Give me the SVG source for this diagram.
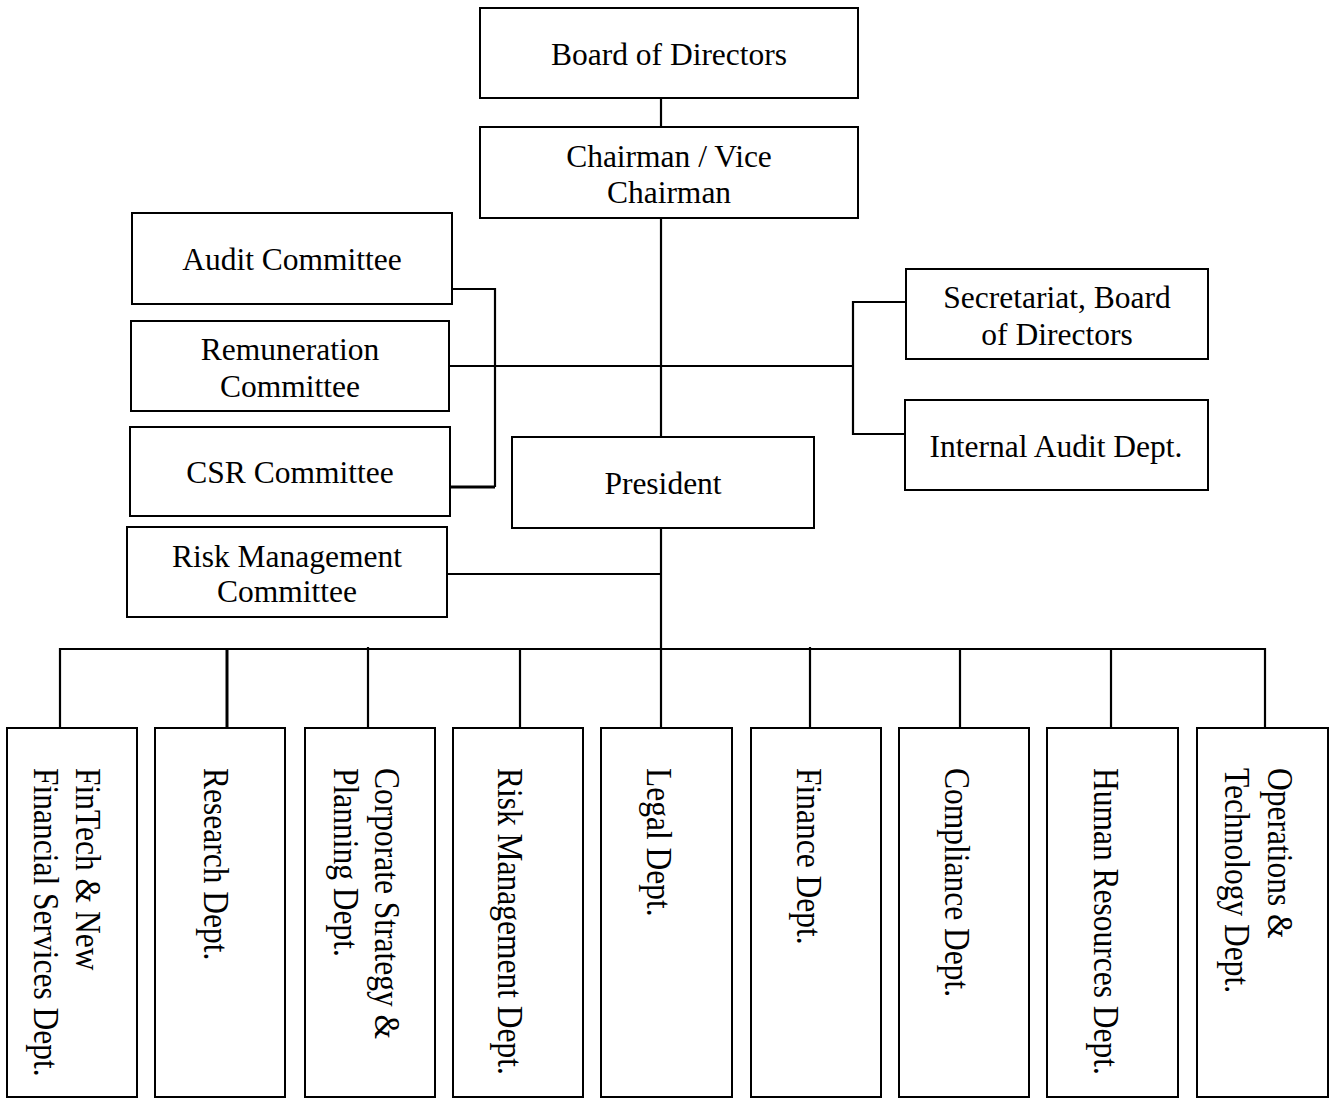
<svg xmlns="http://www.w3.org/2000/svg" width="1331" height="1099" viewBox="0 0 1331 1099">
<style>
.box{fill:#fff;stroke:#000;stroke-width:2}
.t{font-family:"Liberation Serif","Times New Roman",serif;font-size:31.5px;fill:#000}
.c{text-anchor:middle}
.ln{fill:none;stroke:#000;stroke-width:2.2}
.thick{stroke-width:3}
</style>
<rect width="1331" height="1099" fill="#fff"/>
<g id="connectors">
<path class="ln" d="M661,98V127"/>
<path class="ln" d="M661,218V437"/>
<path class="ln" d="M452,289H495V487"/>
<path class="ln thick" d="M495,487H450"/>
<path class="ln" d="M449,366H853"/>
<path class="ln" d="M906,302H853V434H905"/>
<path class="ln" d="M661,528V649"/>
<path class="ln" d="M447,574H661"/>
<path class="ln" d="M60,728V649H1265V728"/>
<path class="ln thick" d="M227,649V728"/>
<path class="ln" d="M368,647V728"/>
<path class="ln" d="M520,649V728"/>
<path class="ln" d="M661,649V728"/>
<path class="ln" d="M810,647V728"/>
<path class="ln" d="M960,649V728"/>
<path class="ln" d="M1111,649V728"/>
</g>
<g id="board"><rect class="box" x="480" y="8" width="378" height="90"/><text class="t c" x="669" y="64.5">Board of Directors</text></g>
<g id="chairman"><rect class="box" x="480" y="127" width="378" height="91"/><text class="t c" x="669" y="167">Chairman / Vice</text><text class="t c" x="669" y="203">Chairman</text></g>
<g id="audit-committee"><rect class="box" x="132" y="213" width="320" height="91"/><text class="t c" x="292" y="270">Audit Committee</text></g>
<g id="remuneration-committee"><rect class="box" x="131" y="321" width="318" height="90"/><text class="t c" x="290" y="360">Remuneration</text><text class="t c" x="290" y="397">Committee</text></g>
<g id="csr-committee"><rect class="box" x="130" y="427" width="320" height="89"/><text class="t c" x="290" y="483">CSR Committee</text></g>
<g id="risk-committee"><rect class="box" x="127" y="527" width="320" height="90"/><text class="t c" x="287" y="567">Risk Management</text><text class="t c" x="287" y="602">Committee</text></g>
<g id="secretariat"><rect class="box" x="906" y="269" width="302" height="90"/><text class="t c" x="1057" y="308">Secretariat, Board</text><text class="t c" x="1057" y="345">of Directors</text></g>
<g id="internal-audit"><rect class="box" x="905" y="400" width="303" height="90"/><text class="t c" x="1056" y="456.5">Internal Audit Dept.</text></g>
<g id="president"><rect class="box" x="512" y="437" width="302" height="91"/><text class="t c" x="663" y="494">President</text></g>
<g id="fintech"><rect class="box" x="7" y="728" width="130" height="369"/>
<text class="t" transform="translate(76,768) rotate(90) scale(1,1.17)">FinTech &amp; New</text>
<text class="t" transform="translate(34,768) rotate(90) scale(1,1.17)">Financial Services Dept.</text></g>
<g id="research"><rect class="box" x="155" y="728" width="130" height="369"/>
<text class="t" transform="translate(204,768) rotate(90) scale(1,1.17)">Research Dept.</text></g>
<g id="corporate-strategy"><rect class="box" x="305" y="728" width="130" height="369"/>
<text class="t" transform="translate(375,768) rotate(90) scale(1,1.17)">Corporate Strategy &amp;</text>
<text class="t" transform="translate(334,768) rotate(90) scale(1,1.17)">Planning Dept.</text></g>
<g id="risk-dept"><rect class="box" x="453" y="728" width="130" height="369"/>
<text class="t" transform="translate(498,768) rotate(90) scale(1,1.17)">Risk Management Dept.</text></g>
<g id="legal"><rect class="box" x="601" y="728" width="131" height="369"/>
<text class="t" transform="translate(647,768) rotate(90) scale(1,1.17)">Legal Dept.</text></g>
<g id="finance"><rect class="box" x="751" y="728" width="130" height="369"/>
<text class="t" transform="translate(797,768) rotate(90) scale(1,1.17)">Finance Dept.</text></g>
<g id="compliance"><rect class="box" x="899" y="728" width="130" height="369"/>
<text class="t" transform="translate(945,768) rotate(90) scale(1,1.17)">Compliance Dept.</text></g>
<g id="hr"><rect class="box" x="1047" y="728" width="131" height="369"/>
<text class="t" transform="translate(1094,768) rotate(90) scale(1,1.17)">Human Resources Dept.</text></g>
<g id="operations"><rect class="box" x="1197" y="728" width="131" height="369"/>
<text class="t" transform="translate(1268,768) rotate(90) scale(1,1.17)">Operations &amp;</text>
<text class="t" transform="translate(1225,768) rotate(90) scale(1,1.17)">Technology Dept.</text></g>
</svg>
